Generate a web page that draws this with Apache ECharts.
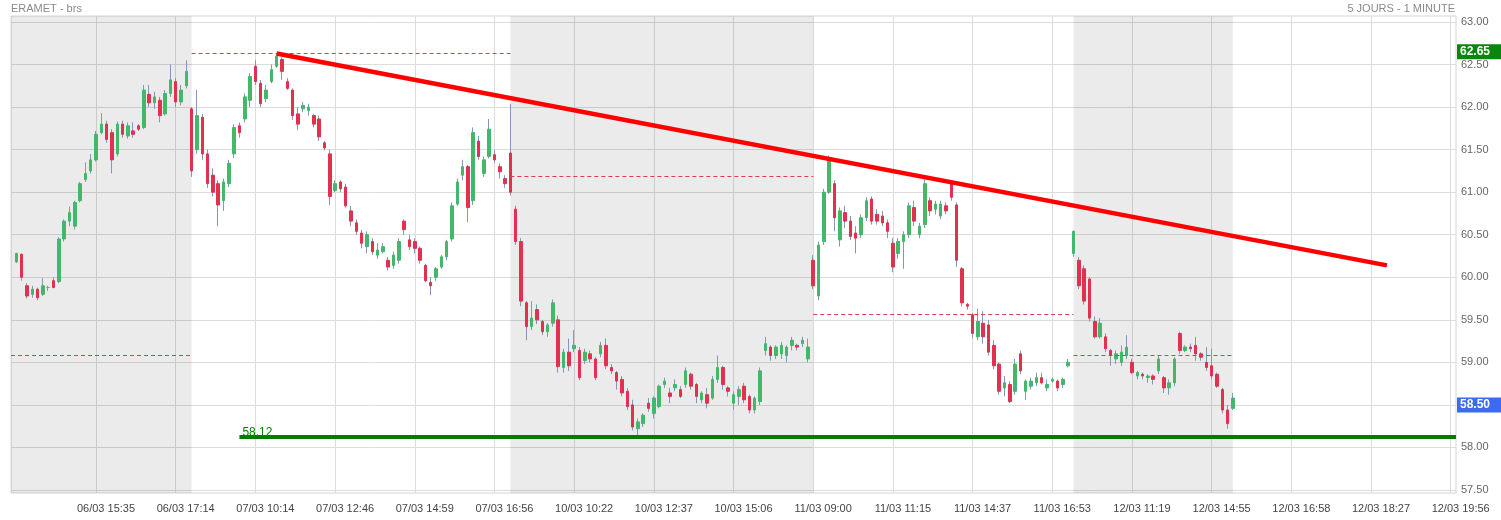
<!DOCTYPE html>
<html>
<head>
<meta charset="utf-8">
<script src="https://cdn.jsdelivr.net/npm/echarts@6/dist/echarts.min.js"></script>
<style>
html,body{margin:0;padding:0;background:#fff;}
#chart{width:1501px;height:520px;}
</style>
</head>
<body>
<div id="chart"></div>
<script>
// ---------------- DATA ----------------
const chartTitle = 'ERAMET - brs';
const periodLabel = '5 JOURS - 1 MINUTE';
const xTickLabels = ['06/03 15:35','06/03 17:14','07/03 10:14','07/03 12:46','07/03 14:59','07/03 16:56',
  '10/03 10:22','10/03 12:37','10/03 15:06','11/03 09:00','11/03 11:15','11/03 14:37','11/03 16:53',
  '12/03 11:19','12/03 14:55','12/03 16:58','12/03 18:27','12/03 19:56'];
const yMin = 57.5, yMax = 63, yStep = 0.5;
const totalSlots = 273;      // bar slots on the time axis (incl. empty future slots)
const firstLabelSlot = 16;
const slotsPerLabel = 15;

// bars: [open, close, low, high]
const day0603 = [
[60.18,60.28,60.17,60.29],[60.27,60.00,59.96,60.28],[59.90,59.78,59.75,59.93],[59.80,59.86,59.76,59.90],
[59.86,59.76,59.73,59.88],[59.80,59.90,59.78,59.99],[59.88,59.88,59.84,59.90],[59.96,59.88,59.87,60.00],
[59.95,60.45,59.93,60.47],[60.45,60.66,60.42,60.68],[60.66,60.76,60.60,60.83],[60.60,60.88,60.56,60.90],
[60.90,61.10,60.88,61.12],[61.15,61.22,61.12,61.35],[61.25,61.38,61.22,61.45],[61.38,61.68,61.36,61.72],
[61.70,61.80,61.68,61.93],[61.80,61.62,61.58,61.84],[61.70,61.38,61.22,61.74],[61.45,61.80,61.42,61.83],
[61.80,61.68,61.64,61.84],[61.66,61.78,61.63,61.82],[61.72,61.68,61.64,61.82],[61.78,61.74,61.72,61.80],
[61.76,62.20,61.74,62.26],[62.15,62.05,62.00,62.26],[62.05,62.12,61.98,62.18],[62.08,61.90,61.82,62.12],
[61.92,62.16,61.90,62.20],[62.16,62.32,62.12,62.50],[62.30,62.06,62.00,62.34],[62.06,62.20,62.02,62.26],
[62.25,62.42,62.22,62.55]];
const day0703 = [
[61.98,61.25,61.18,62.00],[61.50,61.90,61.45,62.20],[61.88,61.45,61.38,61.92],[61.45,61.10,61.05,61.50],
[61.20,61.00,60.95,61.28],[61.10,60.85,60.60,61.14],[60.90,61.12,60.78,61.16],[61.10,61.34,61.06,61.38],
[61.45,61.76,61.40,61.80],[61.78,61.70,61.64,61.82],[61.86,62.12,61.82,62.16],[62.08,62.36,62.00,62.40],
[62.48,62.30,62.26,62.55],[62.28,62.04,62.00,62.32],[62.10,62.20,62.06,62.26],[62.30,62.44,62.28,62.50],
[62.48,62.60,62.46,62.62],[62.56,62.42,62.32,62.58],[62.30,62.22,62.20,62.34],[62.20,61.90,61.85,62.22],
[61.92,61.80,61.73,62.00],[61.98,62.02,61.94,62.06],[61.96,62.00,61.90,62.04],[61.90,61.80,61.76,61.92],
[61.86,61.65,61.60,61.90],[61.58,61.52,61.49,61.60],[61.45,60.95,60.85,61.50],[61.02,61.10,61.00,61.14],
[61.12,61.04,61.00,61.14],[61.06,60.84,60.82,61.10],[60.78,60.66,60.60,60.84],[60.64,60.54,60.50,60.68],
[60.52,60.40,60.34,60.56],[60.36,60.50,60.28,60.54],[60.42,60.30,60.26,60.46],[60.26,60.32,60.22,60.40],
[60.30,60.36,60.28,60.40],[60.20,60.12,60.08,60.24],[60.14,60.26,60.10,60.30],[60.20,60.42,60.16,60.46],
[60.66,60.56,60.50,60.68],[60.44,60.36,60.32,60.50],[60.42,60.34,60.28,60.46],[60.34,60.20,60.16,60.36],
[60.14,59.96,59.94,60.16],[59.94,59.90,59.79,60.00],[60.00,60.10,59.96,60.12],[60.12,60.24,60.10,60.26],
[60.24,60.42,60.20,60.44],[60.45,60.84,60.42,60.88],[60.86,61.12,60.84,61.16],[61.20,61.30,61.14,61.38],
[61.30,60.82,60.65,61.32],[60.90,61.70,60.85,61.76],[61.60,61.42,61.38,61.66],[61.22,61.38,61.18,61.42],
[61.42,61.74,61.40,61.86],[61.44,61.38,61.34,61.50],[61.30,61.24,61.16,61.34],[61.16,61.10,61.05,61.20]];
const day1003 = [
[61.46,61.00,60.96,62.04],[60.80,60.42,60.38,60.84],[60.42,59.72,59.66,60.46],[59.70,59.42,59.26,59.72],
[59.42,59.52,59.38,59.72],[59.62,59.50,59.45,59.68],[59.48,59.36,59.32,59.50],[59.36,59.44,59.30,59.46],
[59.46,59.70,59.42,59.74],[59.50,58.95,58.88,59.55],[58.94,59.12,58.88,59.16],[59.12,58.96,58.90,59.28],
[59.16,59.20,59.12,59.38],[59.14,58.82,58.79,59.18],[59.02,59.12,58.98,59.16],[59.10,59.04,59.00,59.14],
[59.04,58.82,58.79,59.06],[59.10,59.20,59.06,59.24],[59.20,58.96,58.92,59.28],[58.94,58.90,58.86,58.98],
[58.88,58.78,58.68,58.90],[58.80,58.64,58.60,58.84],[58.66,58.48,58.44,58.70],[58.50,58.24,58.20,58.56],
[58.22,58.30,58.14,58.34],[58.28,58.38,58.24,58.40],[58.52,58.46,58.42,58.58],[58.40,58.58,58.34,58.60],
[58.48,58.72,58.46,58.74],[58.74,58.78,58.70,58.82],[58.64,58.60,58.52,58.70],[58.70,58.74,58.66,58.80],
[58.68,58.60,58.58,58.72],[58.74,58.90,58.70,58.94],[58.86,58.72,58.68,58.88],[58.74,58.60,58.52,58.76],
[58.56,58.64,58.52,58.66],[58.62,58.52,58.46,58.70],[58.58,58.80,58.56,58.84],[58.80,58.94,58.76,59.08],
[58.94,58.74,58.68,58.96],[58.70,58.66,58.60,58.72],[58.52,58.62,58.44,58.66],[58.60,58.68,58.50,58.72],
[58.72,58.56,58.52,58.76],[58.60,58.44,58.40,58.62],[58.44,58.58,58.40,58.60],[58.54,58.90,58.50,58.94],
[59.14,59.22,59.08,59.30],[59.18,59.08,59.02,59.20],[59.08,59.18,59.04,59.20],[59.10,59.20,59.04,59.24],
[59.08,59.18,59.00,59.20],[59.20,59.26,59.14,59.30],[59.20,59.18,59.14,59.22],[59.22,59.26,59.18,59.30],
[59.04,59.18,59.00,59.28]];
const day1103 = [
[60.20,59.90,59.86,60.26],[59.78,60.38,59.73,60.42],[60.42,61.00,60.38,61.04],[61.00,61.38,60.98,61.43],
[61.10,60.70,60.54,61.14],[60.44,60.78,60.36,60.82],[60.76,60.66,60.58,60.84],[60.66,60.48,60.44,60.72],
[60.52,60.46,60.28,60.60],[60.50,60.70,60.46,60.74],[60.70,60.90,60.66,60.94],[60.92,60.66,60.62,60.95],
[60.74,60.66,60.62,60.80],[60.72,60.64,60.60,60.78],[60.64,60.54,60.46,60.68],[60.40,60.12,60.06,60.46],
[60.28,60.42,60.22,60.46],[60.42,60.50,60.10,60.54],[60.50,60.84,60.46,60.88],[60.82,60.66,60.60,60.90],
[60.50,60.60,60.46,60.64],[60.62,61.10,60.58,61.15],[60.90,60.78,60.72,60.94],[60.80,60.86,60.74,60.90],
[60.72,60.86,60.68,60.90],[60.84,60.78,60.74,60.88],[61.10,60.94,60.90,61.12],[60.85,60.20,60.12,60.88],
[60.10,59.70,59.66,60.12],[59.68,59.66,59.62,59.70],[59.56,59.34,59.28,59.58],[59.30,59.48,59.26,59.63],
[59.46,59.30,59.22,59.60],[59.44,59.12,59.08,59.50],[59.20,58.96,58.92,59.26],[58.98,58.66,58.62,59.00],
[58.70,58.76,58.60,58.84],[58.74,58.54,58.52,58.78],[58.66,58.98,58.62,59.04],[59.10,58.90,58.86,59.14],
[58.66,58.78,58.56,58.80],[58.72,58.78,58.68,58.82],[58.76,58.82,58.72,58.88],[58.82,58.76,58.74,58.88],
[58.70,58.74,58.66,58.80],[58.78,58.80,58.76,58.82],[58.78,58.70,58.66,58.80],[58.74,58.80,58.70,58.82],
[58.96,59.00,58.94,59.04]];
const day1203 = [
[60.28,60.54,60.24,60.55],[60.20,59.90,59.86,60.24],[60.10,59.72,59.68,60.14],[59.98,59.52,59.48,60.00],
[59.48,59.30,59.28,59.54],[59.30,59.46,59.28,59.52],[59.30,59.16,59.12,59.34],[59.14,59.08,58.96,59.16],
[59.04,59.10,58.98,59.14],[59.00,59.12,58.96,59.20],[59.08,59.18,59.04,59.32],[59.00,58.88,58.86,59.04],
[58.84,58.88,58.80,58.90],[58.86,58.84,58.80,58.88],[58.82,58.84,58.76,58.86],[58.84,58.80,58.74,58.86],
[58.90,59.04,58.86,59.08],[58.82,58.70,58.64,58.84],[58.70,58.76,58.62,58.80],[58.76,59.04,58.72,59.06],
[59.34,59.14,59.10,59.36],[59.14,59.18,59.12,59.20],[59.18,59.16,59.12,59.22],[59.20,59.10,59.02,59.30],
[59.10,59.06,59.02,59.12],[59.00,58.94,58.90,59.18],[58.96,58.84,58.80,59.16],[58.86,58.72,58.70,58.88],
[58.68,58.44,58.40,58.70],[58.44,58.28,58.22,58.50],[58.46,58.58,58.44,58.64]];

const sessionRefLevels = [59.08, 62.63, 61.19, 59.57, 59.08]; // dashed reference level per session
const shadedSessions = [0, 2, 4];
const trendLine = [[50, 62.63], [259, 60.14]];                // [slot, price]
const supportLevel = 58.12;
const supportStartSlot = 43;
const highTag = 62.65;
const lastPrice = 58.50;

// ---------------- BUILD ----------------
const days = [day0603, day0703, day1003, day1103, day1203];
const EMPTY = ['-','-','-','-'];
const bars = [EMPTY];
const bounds = [0];
days.forEach(d => { d.forEach(b => bars.push(b)); bounds.push(bars.length); });
bounds[bounds.length - 1] = bars.length - 1;

const categories = Array.from({length: totalSlots}, (_, i) => String(i));
const isTick = i => i >= firstLabelSlot && (i - firstLabelSlot) % slotsPerLabel === 0;

const wickData = bars;
const bodyData = bars.map(b => b === EMPTY ? EMPTY : [b[0], b[1], Math.min(b[0], b[1]), Math.max(b[0], b[1])]);

const FONT = 'Liberation Sans, Arial, sans-serif';
const UP = '#43b86a', DOWN = '#e2304f', WICK = '#8497b6';
const GRID_LINE = '#dcdcdc';

const refLines = sessionRefLevels.map((lvl, i) => [
  {coord: [bounds[i], lvl], lineStyle: {color: '#d8404e', width: 1, type: [4, 3]}},
  {coord: [bounds[i + 1], lvl]}
]);

const priceTag = (v, bg) => ({
  yAxis: v,
  lineStyle: {color: 'rgba(0,0,0,0)', width: 1, type: 'solid'},
  label: {
    show: true, position: 'end', distance: 1,
    formatter: p => Number(p.value).toFixed(2),
    color: '#fff', backgroundColor: bg, fontSize: 12, fontWeight: 'bold', fontFamily: FONT,
    padding: [2, 12, 1, 3], opacity: 1
  }
});

const option = {
  animation: false,
  textStyle: {fontFamily: FONT},
  title: [
    {text: chartTitle, left: 11, top: 3, padding: 0, textStyle: {fontSize: 11, color: '#8a8a8a', fontWeight: 'normal', fontFamily: FONT}},
    {text: periodLabel, right: 46, top: 3, padding: 0, textStyle: {fontSize: 11, color: '#8a8a8a', fontWeight: 'normal', fontFamily: FONT}}
  ],
  grid: [
    {left: 11, right: 45, top: 16, bottom: 27, show: true, borderColor: '#d4d4d4', borderWidth: 1,
     backgroundColor: 'transparent', containLabel: false, outerBoundsMode: 'none'},
    {left: 11, right: 45, top: 22, bottom: 30, containLabel: false, outerBoundsMode: 'none'}
  ],
  xAxis: [
    {type: 'category', gridIndex: 0, data: categories, boundaryGap: false,
     axisLine: {show: false}, axisTick: {show: false},
     axisLabel: {interval: (i) => isTick(i), margin: 10, color: '#444', fontSize: 11, fontFamily: FONT,
       padding: [0, 0, 0, 20],
       formatter: (v, i) => xTickLabels[(i - firstLabelSlot) / slotsPerLabel] || ''},
     splitLine: {show: true, interval: (i) => isTick(i), lineStyle: {color: GRID_LINE, width: 1}}},
    {type: 'category', gridIndex: 1, data: categories, boundaryGap: false, show: false}
  ],
  yAxis: [
    {type: 'value', gridIndex: 0, min: 0, max: 1, show: false, splitLine: {show: false}},
    {type: 'value', gridIndex: 1, position: 'right', min: yMin, max: yMax, interval: yStep,
     axisLine: {show: false}, axisTick: {show: false},
     axisLabel: {margin: 5, color: '#666', fontSize: 11, fontFamily: FONT, formatter: v => v.toFixed(2)},
     splitLine: {show: true, lineStyle: {color: GRID_LINE, width: 1}}}
  ],
  series: [
    {type: 'line', xAxisIndex: 0, yAxisIndex: 0, data: [], silent: true,
     markArea: {silent: true, itemStyle: {color: 'rgba(0,0,0,0.08)'},
       data: shadedSessions.map(s => [{xAxis: bounds[s]}, {xAxis: bounds[s + 1]}])}},
    {type: 'candlestick', name: 'wick', xAxisIndex: 1, yAxisIndex: 1, data: wickData, barWidth: 1, silent: true,
     itemStyle: {color: WICK, color0: WICK, borderColor: WICK, borderColor0: WICK, borderColorDoji: WICK, borderWidth: 1}},
    {type: 'candlestick', name: 'body', xAxisIndex: 1, yAxisIndex: 1, data: bodyData, barWidth: 3, silent: true,
     itemStyle: {color: UP, color0: DOWN, borderColor: UP, borderColor0: DOWN, borderColorDoji: WICK, borderWidth: 1},
     markLine: {
       silent: true, symbol: ['none', 'none'], label: {show: false}, animation: false,
       data: [
         ...refLines,
         [{coord: trendLine[0], lineStyle: {color: '#ff0000', width: 4.5, type: 'solid'}}, {coord: trendLine[1]}],
         [{coord: [supportStartSlot, supportLevel], lineStyle: {color: '#007c00', width: 4, type: 'solid'},
           label: {show: true, position: 'insideStartTop', distance: 0, offset: [3, 1], formatter: supportLevel.toFixed(2),
                   color: '#008000', fontSize: 12, fontFamily: FONT}},
          {coord: [totalSlots - 1, supportLevel]}],
         priceTag(highTag, '#0a870a'),
         priceTag(lastPrice, '#3b6bf3')
       ]
     }}
  ]
};

const chart = echarts.init(document.getElementById('chart'), null, {renderer: 'canvas'});
chart.setOption(option);
</script>
</body>
</html>
